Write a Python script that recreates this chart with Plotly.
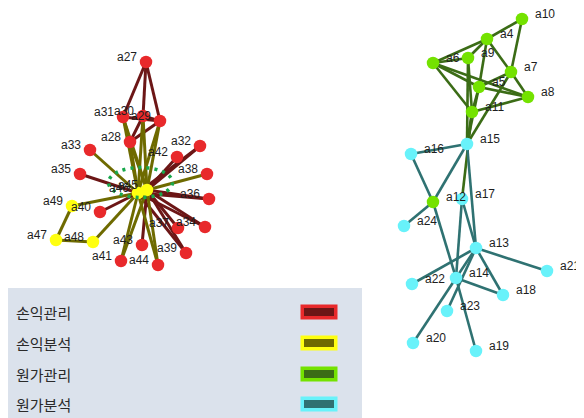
import plotly.graph_objects as go

# ---- data ----
legend_labels = ["손익관리", "손익분석", "원가관리", "원가분석"]
node_colors = ["#e8292b", "#ffff10", "#74e200", "#68f2fa"]
edge_colors = ["#6c1616", "#6e6a00", "#3b6c16", "#2f7272"]

node_names = ["a27", "a31", "a30", "a29", "a28", "a33", "a32", "a42", "a35", "a38",
              "a45", "a46", "a36", "a49", "a40", "a34", "a37", "a47", "a48", "a43",
              "a39", "a41", "a44",
              "a10", "a4", "a9", "a6", "a7", "a5", "a8", "a11", "a15", "a16",
              "a12", "a17", "a24", "a13", "a21", "a22", "a14", "a18", "a23", "a20", "a19"]
node_x = [146, 123, 143, 160, 130, 90, 200, 177, 80, 207,
          147, 138, 209, 72, 100, 205, 178, 56, 93, 142,
          186, 121, 158,
          522, 487, 468, 433, 511, 479, 528, 472, 467, 411,
          433, 462, 404, 476, 547, 412, 456, 503, 447, 413, 476]
node_y = [62, 117, 116, 121, 142, 150, 146, 157, 174, 174,
          190, 193, 199, 206, 212, 227, 228, 240, 242, 245,
          253, 261, 265,
          19, 39, 58, 63, 72, 87, 97, 112, 144, 154,
          202, 199, 226, 248, 271, 284, 278, 295, 311, 343, 351]
node_group = [0, 0, 0, 0, 0, 0, 0, 0, 0, 0,
              1, 1, 0, 1, 0, 0, 0, 1, 1, 0,
              0, 0, 0,
              2, 2, 2, 2, 2, 2, 2, 2, 3, 3,
              2, 3, 3, 3, 3, 3, 3, 3, 3, 3, 3]

edges_src = ["a27", "a27", "a27", "a31", "a30", "a31", "a28", "a28",
             "a32", "a42", "a35", "a36", "a36", "a34", "a34", "a37", "a39", "a39", "a40", "a43", "a32",
             "a31", "a31", "a30", "a30", "a29", "a29", "a28", "a28", "a33", "a38", "a49", "a48",
             "a47", "a47", "a41", "a41", "a44", "a44", "a45",
             "a10", "a10", "a4", "a4", "a6", "a4", "a6", "a6", "a6", "a9", "a9", "a5", "a5",
             "a5", "a5", "a11", "a11", "a7", "a7", "a4", "a11",
             "a15", "a16", "a15", "a15", "a12", "a12", "a17", "a17", "a13", "a13", "a13",
             "a13", "a13", "a14", "a14", "a14"]
edges_dst = ["a31", "a30", "a29", "a29", "a29", "a28", "a29", "a30",
             "a45", "a45", "a46", "a45", "a46", "a45", "a46", "a45", "a45", "a46", "a46", "a45", "a46",
             "a45", "a46", "a45", "a46", "a45", "a46", "a46", "a45", "a46", "a45", "a46", "a46",
             "a49", "a48", "a45", "a46", "a45", "a46", "a46",
             "a4", "a7", "a9", "a6", "a9", "a7", "a11", "a8", "a5", "a15", "a11", "a7", "a8",
             "a15", "a11", "a8", "a15", "a8", "a15", "a5", "a17",
             "a16", "a12", "a12", "a13", "a24", "a14", "a14", "a13", "a21", "a22", "a14",
             "a18", "a23", "a18", "a20", "a19"]
edges_group = [0, 0, 0, 0, 0, 0, 0, 0,
               0, 0, 0, 0, 0, 0, 0, 0, 0, 0, 0, 0, 0,
               1, 1, 1, 1, 1, 1, 1, 1, 1, 1, 1, 1,
               1, 1, 1, 1, 1, 1, 1,
               2, 2, 2, 2, 2, 2, 2, 2, 2, 2, 2, 2, 2,
               2, 2, 2, 2, 2, 2, 2, 2,
               3, 3, 3, 3, 3, 3, 3, 3, 3, 3, 3,
               3, 3, 3, 3, 3]

# ---- build ----
# the page has an 8px body margin: the figure is shrunk and its axes offset so
# that one axis unit equals one window pixel from the window's top-left corner
PAGE_MARGIN = 8
W, H = 584, 418

pos = {n: (x, y) for n, x, y in zip(node_names, node_x, node_y)}
fig = go.Figure()

for g in range(4):
    ex, ey = [], []
    for s, d, eg in zip(edges_src, edges_dst, edges_group):
        if eg == g:
            ex += [pos[s][0], pos[d][0], None]
            ey += [pos[s][1], pos[d][1], None]
    fig.add_trace(go.Scatter(x=ex, y=ey, mode="lines",
                             line=dict(color=edge_colors[g], width=3 if g < 2 else 2.6),
                             hoverinfo="skip", showlegend=False))

# selection ellipse around central nodes
cx = (pos["a45"][0] + pos["a46"][0]) / 2 - 2
cy = (pos["a45"][1] + pos["a46"][1]) / 2 - 9
fig.add_shape(type="circle", xref="x", yref="y", x0=cx - 32, x1=cx + 32, y0=cy - 15, y1=cy + 15,
              line=dict(color="#18a84c", width=3.5, dash="3px,5px"), layer="above")

for g in range(4):
    idx = [i for i, gg in enumerate(node_group) if gg == g]
    fig.add_trace(go.Scatter(x=[node_x[i] for i in idx], y=[node_y[i] for i in idx], mode="markers",
                             marker=dict(size=12.5, color=node_colors[g], line=dict(width=0)),
                             text=[node_names[i] for i in idx], hoverinfo="text", showlegend=False))

# labels: left cluster labels sit left of the node, right cluster labels right of it
for i, n in enumerate(node_names):
    left = node_group[i] < 2
    fig.add_annotation(x=node_x[i], y=node_y[i], text=n, showarrow=False,
                       xanchor="right" if left else "left", yanchor="middle",
                       xshift=-7 if left else 11, yshift=5,
                       font=dict(family="Liberation Sans, Arial", size=12, color="#1e1e1e"))

# legend panel
fig.add_shape(type="rect", xref="x", yref="y", x0=0, x1=362, y0=288, y1=H,
              fillcolor="#dbe2ec", line=dict(width=0), layer="below")
leg_y = [312, 343, 374, 404]
for g, lab in enumerate(legend_labels):
    yy = leg_y[g]
    fig.add_annotation(x=14, y=yy, text=lab, showarrow=False, xanchor="left", yanchor="middle",
                       font=dict(family="Noto Sans CJK KR", size=15, color="#2a2a2a"))
    fig.add_shape(type="rect", xref="x", yref="y", x0=300.5, x1=337.5, y0=yy - 7.5, y1=yy + 7.5,
                  fillcolor=node_colors[g], line=dict(width=0), layer="above")
    fig.add_shape(type="rect", xref="x", yref="y", x0=304, x1=334, y0=yy - 4, y1=yy + 4,
                  fillcolor=edge_colors[g], line=dict(width=0), layer="above")

fig.update_layout(width=W - PAGE_MARGIN, height=H - PAGE_MARGIN,
                  margin=dict(l=0, r=0, t=0, b=0),
                  paper_bgcolor="white", plot_bgcolor="white",
                  xaxis=dict(range=[PAGE_MARGIN, W], visible=False, fixedrange=True),
                  yaxis=dict(range=[H, PAGE_MARGIN], visible=False, fixedrange=True),
                  showlegend=False)
fig.write_html("out.html")
